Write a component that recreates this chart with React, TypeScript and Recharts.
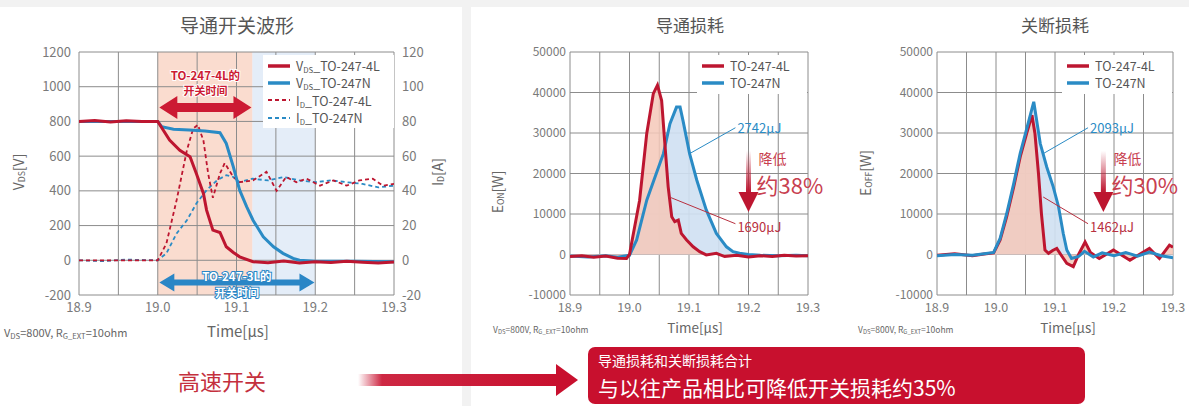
import React from "react";
import {
  ComposedChart,
  Line,
  Area,
  XAxis,
  YAxis,
  CartesianGrid,
  ReferenceArea,
  ReferenceLine,
} from "recharts";

const RED = "#bd1630";
const BLUE = "#2a8bc5";
const TICK = "#7a7a7a";
const GRID = "#8c8c8c";
const FONT = '"Noto Sans CJK SC", "Noto Sans", sans-serif';

// axes
const timeTicks = [18.9, 18.95, 19, 19.05, 19.1, 19.15, 19.2, 19.25, 19.3];
const vdsTicks = [-200, 0, 200, 400, 600, 800, 1000, 1200];
const idTicks = [-20, 0, 20, 40, 60, 80, 100, 120];
const energyTicks = [-10000, 0, 10000, 20000, 30000, 40000, 50000];

// 导通开关波形
const vds4LTime = [18.9, 18.92, 18.94, 18.96, 18.98, 19.0, 19.015, 19.028, 19.041, 19.049, 19.058, 19.062, 19.07, 19.079, 19.087, 19.096, 19.104, 19.121, 19.14, 19.16, 19.18, 19.2, 19.22, 19.24, 19.26, 19.28, 19.3];
const vds4LValue = [800, 806, 797, 804, 799, 800, 692, 634, 596, 500, 385, 289, 174, 160, 78, 45, 20, -8, -14, -4, -16, -8, -13, -5, -11, -16, -10];
const vdsNTime = [18.9, 18.95, 19.0, 19.005, 19.02, 19.04, 19.06, 19.079, 19.087, 19.096, 19.104, 19.113, 19.121, 19.134, 19.147, 19.159, 19.172, 19.18, 19.2, 19.25, 19.3];
const vdsNValue = [800, 800, 800, 770, 755, 750, 745, 735, 673, 538, 404, 308, 231, 135, 78, 40, 11, 0, -5, -5, -8];
const id4LTime = [18.9, 18.95, 19.0, 19.011, 19.024, 19.037, 19.045, 19.051, 19.058, 19.064, 19.07, 19.079, 19.085, 19.096, 19.104, 19.121, 19.138, 19.151, 19.163, 19.176, 19.189, 19.206, 19.223, 19.24, 19.256, 19.273, 19.286, 19.3];
const id4LValue = [0, 0, 0, 9.7, 34.7, 63.4, 75.9, 78, 69, 50, 36, 50, 56, 48, 45, 46, 51, 40, 48, 45, 47, 43, 46, 43, 46, 47, 43, 44];
const idNTime = [18.9, 18.93, 18.96, 19.0, 19.011, 19.024, 19.037, 19.049, 19.062, 19.075, 19.087, 19.096, 19.104, 19.12, 19.14, 19.16, 19.18, 19.2, 19.22, 19.24, 19.26, 19.28, 19.3];
const idNValue = [0, -0.5, 0.4, 0, 4, 15.5, 23, 32.7, 40.4, 46, 49, 48, 45, 47, 46, 48, 46, 45, 46, 45, 44, 42, 43];

// 导通损耗
const eon4LTime = [18.9, 18.92, 18.94, 18.96, 18.98, 18.995, 19.0, 19.017, 19.029, 19.04, 19.047, 19.054, 19.059, 19.065, 19.071, 19.076, 19.082, 19.087, 19.096, 19.107, 19.118, 19.129, 19.146, 19.16, 19.18, 19.2, 19.22, 19.24, 19.26, 19.28, 19.3];
const eon4LValue = [-500, -300, -700, -400, -900, -1000, 0, 13400, 29900, 39700, 41800, 38000, 28200, 16700, 9300, 8100, 8500, 5200, 3600, 1900, 700, -100, 300, -500, -200, -600, -300, -500, -200, -400, -300];
const eonNTime = [18.9, 18.93, 18.96, 18.98, 19.0, 19.012, 19.029, 19.045, 19.057, 19.068, 19.079, 19.085, 19.09, 19.101, 19.113, 19.129, 19.146, 19.163, 19.174, 19.185, 19.2, 19.22, 19.25, 19.28, 19.3];
const eonNValue = [-400, -600, -300, -700, -200, 3600, 13400, 20000, 24900, 32300, 36400, 36400, 33000, 24900, 18400, 11000, 5200, 1900, 700, 300, 0, -200, -300, -200, -300];

// 关断损耗
const eoff4LTime = [18.9, 18.93, 18.96, 18.98, 18.996, 19.007, 19.018, 19.03, 19.041, 19.052, 19.061, 19.066, 19.072, 19.077, 19.083, 19.089, 19.096, 19.103, 19.112, 19.12, 19.131, 19.14, 19.151, 19.16, 19.175, 19.199, 19.227, 19.26, 19.277, 19.294, 19.3];
const eoff4LValue = [-200, 200, -300, 100, 400, 3600, 9300, 16700, 24100, 29900, 34400, 29900, 20000, 10100, 1100, 300, 1000, 1500, -500, -2200, -3000, 0, 3100, 500, -1000, 1100, -1400, 1500, -1000, 2300, 1800];
const eoffNTime = [18.9, 18.93, 18.96, 18.98, 18.996, 19.007, 19.018, 19.03, 19.041, 19.052, 19.064, 19.075, 19.086, 19.097, 19.106, 19.114, 19.12, 19.128, 19.14, 19.15, 19.165, 19.18, 19.2, 19.22, 19.24, 19.26, 19.28, 19.3];
const eoffNValue = [-300, 0, -200, 200, 500, 4000, 10000, 17500, 25000, 31000, 37700, 27400, 21600, 16700, 11800, 5200, 1100, -1000, -500, 800, -600, 400, -300, 500, -400, 600, -300, -800];

// annotation texts
const onLossLabels = ["2742μJ", "1690μJ"];
const offLossLabels = ["2093μJ", "1462μJ"];
const reductionLabels = ["约38%", "约30%"];

const zip = (t: number[], v: number[]) => t.map((x, i) => ({ t: x, v: v[i] }));

const fmtTime = (v: number) => (Math.round(v * 20) % 2 === 0 ? v.toFixed(1) : "");

const timeTitle = (dx: number, dy: number, size: number) => (props: any) => {
  const vb = props.viewBox;
  return (
    <text x={vb.x + vb.width / 2 + dx} y={vb.y + vb.height + dy} textAnchor="middle" fontSize={size} fill="#666" fontFamily={FONT}>
      Time[μs]
    </text>
  );
};

const sideTitle = (cx: number, cy: number, main: string, sub: string, tail: string, size: number) => () => (
  <text transform={`translate(${cx},${cy}) rotate(-90)`} textAnchor="middle" dominantBaseline="central" fontSize={size} fill="#666" fontFamily={FONT}>
    {main}
    <tspan fontSize={size * 0.62} dy={3}>{sub}</tspan>
    <tspan dy={-3}>{tail}</tspan>
  </text>
);

const spanArrow = (color: string, hl: number, hw: number, sw: number, lines: string[], dys: number[], size: number, textFill: string, textStroke: string) => (p: any) => {
  const y = p.y1;
  const a = p.x1;
  const b = p.x2;
  const pts = [
    [a, y], [a + hl, y - hw], [a + hl, y - sw], [b - hl, y - sw], [b - hl, y - hw],
    [b, y], [b - hl, y + hw], [b - hl, y + sw], [a + hl, y + sw], [a + hl, y + hw],
  ].map((q) => q.join(",")).join(" ");
  const cx = (a + b) / 2;
  return (
    <g>
      <polygon points={pts} fill={color} />
      {lines.map((s, i) => (
        <text key={s} x={cx} y={y + dys[i]} textAnchor="middle" dominantBaseline="central" fontSize={i === 0 ? size : size - 0.5} fontWeight="bold"
          fill={textFill} stroke={textStroke} strokeWidth={2} paintOrder="stroke" fontFamily={FONT}>
          {s}
        </text>
      ))}
    </g>
  );
};

const leader = (color: string, text: string, dy: number) => (p: any) => (
  <g>
    <line x1={p.x1} y1={p.y1} x2={p.x2} y2={p.y2} stroke={color} strokeWidth={1} />
    <text x={p.x2 + 2} y={p.y2 + dy} fill={color} fontSize={13} fontFamily={FONT} dominantBaseline="central">{text}</text>
  </g>
);

const dropArrow = (id: string, big: string) => (p: any) => {
  const x = p.x1;
  const top = p.y1;
  const tip = p.y2;
  const headH = 20;
  const headW = 10;
  return (
    <g>
      <defs>
        <linearGradient id={id} x1="0" y1="0" x2="0" y2="1">
          <stop offset="0" stopColor={RED} stopOpacity={0} />
          <stop offset="1" stopColor={RED} stopOpacity={1} />
        </linearGradient>
      </defs>
      <rect x={x - 2.5} y={top} width={5} height={tip - headH - top} fill={`url(#${id})`} />
      <polygon points={`${x - headW},${tip - headH} ${x + headW},${tip - headH} ${x},${tip}`} fill={RED} />
      <text x={x + 10} y={top + 7} fill="#c8404f" fontSize={14} dominantBaseline="central" fontFamily={FONT}>降低</text>
      <text x={x + 8} y={top + 33} fill="#c8404f" fontSize={22} dominantBaseline="central" fontFamily={FONT}>{big}</text>
    </g>
  );
};

function LegendBox({ left, top, width, items, lineW }: any) {
  return (
    <div style={{ position: "absolute", left, top, width, background: "#fff", padding: "2px 0" }}>
      {items.map((it: any) => (
        <div key={it.label + it.sub} style={{ display: "flex", alignItems: "center", height: 17.3 }}>
          <svg width={lineW + 6} height={10} style={{ marginLeft: 4 }}>
            <line x1={1} x2={lineW} y1={5} y2={5} stroke={it.color} strokeWidth={it.dashed ? 1.8 : 3.5} strokeDasharray={it.dashed ? "4 3" : undefined} />
          </svg>
          <span style={{ fontSize: 12.5, color: "#555", whiteSpace: "nowrap", fontFamily: FONT }}>
            {it.main}
            {it.sub && <span style={{ fontSize: "0.62em", verticalAlign: "-0.25em" }}>{it.sub}</span>}
            {it.label}
          </span>
        </div>
      ))}
    </div>
  );
}

function Footnote({ left, top, size }: any) {
  const s = { fontSize: "0.7em", verticalAlign: "-0.2em" };
  return (
    <div style={{ position: "absolute", left, top, fontSize: size, color: "#666", whiteSpace: "nowrap", fontFamily: FONT }}>
      V<span style={s}>DS</span>=800V, R<span style={s}>G_EXT</span>=10ohm
    </div>
  );
}

function Title({ cx, top, size, text }: any) {
  return (
    <div style={{ position: "absolute", left: cx - 100, width: 200, top, textAlign: "center", fontSize: size, color: "#555", fontFamily: FONT }}>
      {text}
    </div>
  );
}

function SwitchingChart() {
  return (
    <ComposedChart width={462} height={348} margin={{ top: 52, right: 28, bottom: 28, left: 35 }}>
      <ReferenceArea xAxisId="t" yAxisId="l" x1={19.12} x2={19.2} y1={-200} y2={1200} fill="#d8e5f5" fillOpacity={0.7} stroke="none" zIndex={-150} />
      <ReferenceArea xAxisId="t" yAxisId="l" x1={19} x2={19.12} y1={-200} y2={1200} fill="#f8cdba" fillOpacity={0.7} stroke="none" zIndex={-150} />
      <CartesianGrid xAxisId="t" yAxisId="l" stroke={GRID} strokeWidth={1} />
      <XAxis xAxisId="t" dataKey="t" type="number" domain={[18.9, 19.3]} ticks={timeTicks} tickFormatter={fmtTime}
        axisLine={false} tickLine={false} height={25} tick={{ fill: TICK, fontSize: 13 }} allowDataOverflow
        label={{ content: timeTitle(1.5, 17, 15) }} />
      <YAxis yAxisId="l" type="number" domain={[-200, 1200]} ticks={vdsTicks} width={44} axisLine={false} tickLine={false}
        tick={{ fill: TICK, fontSize: 13 }} label={{ content: sideTitle(18, 172, "V", "DS", "[V]", 14) }} />
      <YAxis yAxisId="r" orientation="right" type="number" domain={[-20, 120]} ticks={idTicks} width={40} axisLine={false} tickLine={false}
        tick={{ fill: TICK, fontSize: 13 }} label={{ content: sideTitle(437, 172, "I", "D", "[A]", 14) }} />
      <Line xAxisId="t" yAxisId="r" data={zip(idNTime, idNValue)} dataKey="v" stroke={BLUE} strokeWidth={1.8} strokeDasharray="4 3" dot={false} isAnimationActive={false} />
      <Line xAxisId="t" yAxisId="r" data={zip(id4LTime, id4LValue)} dataKey="v" stroke={RED} strokeWidth={1.8} strokeDasharray="4 3" dot={false} isAnimationActive={false} />
      <Line xAxisId="t" yAxisId="l" data={zip(vdsNTime, vdsNValue)} dataKey="v" stroke={BLUE} strokeWidth={3} dot={false} isAnimationActive={false} />
      <Line xAxisId="t" yAxisId="l" data={zip(vds4LTime, vds4LValue)} dataKey="v" stroke={RED} strokeWidth={3} dot={false} isAnimationActive={false} />
      <ReferenceLine xAxisId="t" yAxisId="l" segment={[{ x: 19.002, y: 880 }, { x: 19.119, y: 880 }]}
        shape={spanArrow("#cc1a33", 18, 11.5, 4.5, ["TO-247-4L的", "开关时间"], [-33, -18], 11.5, "#cc1a33", "#fff")} />
      <ReferenceLine xAxisId="t" yAxisId="l" segment={[{ x: 19.002, y: -128 }, { x: 19.199, y: -128 }]}
        shape={spanArrow("#2a86c6", 15, 9, 3, ["TO-247-3L的", "开关时间"], [-7, 9], 11.5, "#ffffff", "#2a86c6")} />
    </ComposedChart>
  );
}

function LossChart({ width, left, right, yTitle, ytx, yty, titleDx, red, blue, labels, big, gid, arrowT, leaderT, textT, redFirst }: any) {
  const redArea = <Area xAxisId="t" yAxisId="e" data={red} dataKey="v" baseValue={0} fill="#f4c8b8" fillOpacity={0.85} stroke="none" isAnimationActive={false} />;
  const blueArea = <Area xAxisId="t" yAxisId="e" data={blue} dataKey="v" baseValue={0} fill="#cfe0f2" fillOpacity={0.9} stroke="none" isAnimationActive={false} />;
  const redLine = <Line xAxisId="t" yAxisId="e" data={red} dataKey="v" stroke={RED} strokeWidth={3} dot={false} isAnimationActive={false} />;
  const blueLine = <Line xAxisId="t" yAxisId="e" data={blue} dataKey="v" stroke={BLUE} strokeWidth={3} dot={false} isAnimationActive={false} />;
  return (
    <ComposedChart width={width} height={348} margin={{ top: 52, right, bottom: 28, left }}>
      <CartesianGrid xAxisId="t" yAxisId="e" stroke={GRID} strokeWidth={1} />
      <XAxis xAxisId="t" dataKey="t" type="number" domain={[18.9, 19.3]} ticks={timeTicks} tickFormatter={fmtTime}
        axisLine={false} tickLine={false} height={25} tick={{ fill: TICK, fontSize: 12.5 }} allowDataOverflow
        label={{ content: timeTitle(titleDx, 13, 13.5) }} />
      <YAxis yAxisId="e" type="number" domain={[-10000, 50000]} ticks={energyTicks} width={50} axisLine={false} tickLine={false}
        tickSize={0} tickMargin={4} tick={{ fill: TICK, fontSize: 12 }} label={{ content: sideTitle(ytx, yty, "E", yTitle, "[W]", 14) }} />
      {blueArea}
      {redArea}
      {redFirst ? redLine : blueLine}
      {redFirst ? blueLine : redLine}
      <ReferenceLine xAxisId="t" yAxisId="e" segment={[{ x: leaderT[0], y: 24900 }, { x: textT, y: 31300 }]} shape={leader(BLUE, labels[0], 0)} />
      <ReferenceLine xAxisId="t" yAxisId="e" segment={[{ x: leaderT[1], y: 14200 }, { x: textT, y: 7600 }]} shape={leader("#b83040", labels[1], 3)} />
      <ReferenceLine xAxisId="t" yAxisId="e" segment={[{ x: arrowT, y: 25600 }, { x: arrowT, y: 10500 }]} shape={dropArrow(gid, big)} />
    </ComposedChart>
  );
}

export default function App() {
  const legendN = [
    { main: "V", sub: "DS", label: "_TO-247-4L", color: RED },
    { main: "V", sub: "DS", label: "_TO-247N", color: BLUE },
    { main: "I", sub: "D", label: "_TO-247-4L", color: RED, dashed: true },
    { main: "I", sub: "D", label: "_TO-247N", color: BLUE, dashed: true },
  ];
  const legendE = [
    { main: "", sub: "", label: "TO-247-4L", color: RED },
    { main: "", sub: "", label: "TO-247N", color: BLUE },
  ];
  return (
    <div style={{ position: "absolute", left: 0, top: 0, width: 1189, height: 406, background: "#f2f2f2", overflow: "hidden", fontFamily: FONT }}>
      <div style={{ position: "absolute", left: 0, top: 7, width: 462, height: 399, background: "#fff" }} />
      <div style={{ position: "absolute", left: 471, top: 7, width: 718, height: 399, background: "#fff" }} />

      <Title cx={237} top={11} size={19} text="导通开关波形" />
      <Title cx={690} top={12} size={17} text="导通损耗" />
      <Title cx={1055} top={12} size={17} text="关断损耗" />

      <div style={{ position: "absolute", left: 0, top: 0 }}>
        <SwitchingChart />
      </div>
      <div style={{ position: "absolute", left: 460, top: 0 }}>
        <LossChart width={370} left={60} right={22} yTitle="ON" ytx={37} yty={192} titleDx={6}
          red={zip(eon4LTime, eon4LValue)} blue={zip(eonNTime, eonNValue)} labels={onLossLabels} big={reductionLabels[0]}
          gid="dropOn" arrowT={19.2} leaderT={[19.101, 19.067]} textT={19.178} redFirst={false} />
      </div>
      <div style={{ position: "absolute", left: 830, top: 0 }}>
        <LossChart width={359} left={57} right={16} yTitle="OFF" ytx={35} yty={173} titleDx={13}
          red={zip(eoff4LTime, eoff4LValue)} blue={zip(eoffNTime, eoffNValue)} labels={offLossLabels} big={reductionLabels[1]}
          gid="dropOff" arrowT={19.182} leaderT={[19.08, 19.08]} textT={19.156} redFirst={true} />
      </div>

      <LegendBox left={263} top={55} width={131} items={legendN} lineW={23} />
      <LegendBox left={697} top={55} width={110} items={legendE} lineW={23} />
      <LegendBox left={1062} top={55} width={110} items={legendE} lineW={23} />

      <Footnote left={4} top={324} size={11} />
      <Footnote left={493} top={323} size={8.5} />
      <Footnote left={858} top={323} size={8.5} />

      <div style={{ position: "absolute", left: 178, top: 364, fontSize: 22, color: "#c4303d", fontFamily: FONT }}>高速开关</div>
      <svg style={{ position: "absolute", left: 350, top: 358 }} width={235} height={45}>
        <defs>
          <linearGradient id="shaftFade" x1="0" y1="0" x2="1" y2="0">
            <stop offset="0" stopColor="#c8102e" stopOpacity={0} />
            <stop offset="0.12" stopColor="#c8102e" stopOpacity={0.9} />
            <stop offset="1" stopColor="#c8102e" stopOpacity={1} />
          </linearGradient>
        </defs>
        <rect x={8} y={16} width={200} height={12} fill="url(#shaftFade)" />
        <polygon points="206,6 228,22 206,38" fill="#c8102e" />
      </svg>
      <div style={{ position: "absolute", left: 588, top: 347, width: 497, height: 57, background: "#c8102e", borderRadius: 7 }}>
        <div style={{ position: "absolute", left: 10, top: 3, fontSize: 14, color: "#fff", fontFamily: FONT }}>导通损耗和关断损耗合计</div>
        <div style={{ position: "absolute", left: 10, top: 25, fontSize: 21, color: "#fff", fontFamily: FONT }}>与以往产品相比可降低开关损耗约35%</div>
      </div>
    </div>
  );
}
